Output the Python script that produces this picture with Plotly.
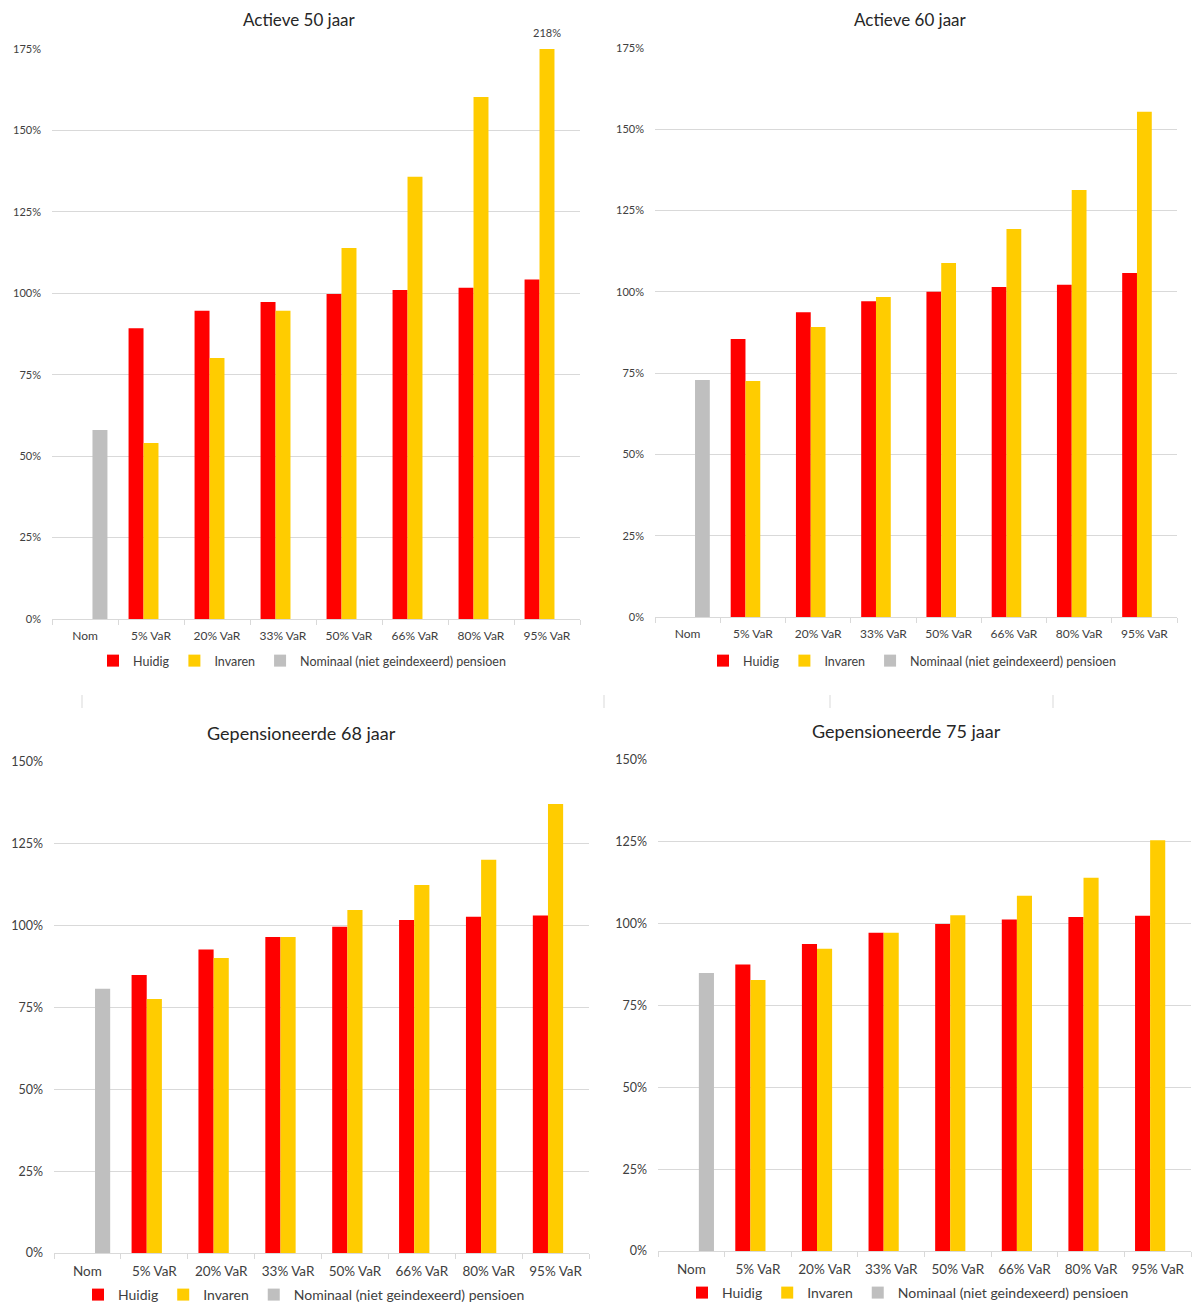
import plotly.graph_objects as go

W, H = 1192, 1311

categories = ["Nom", "5% VaR", "20% VaR", "33% VaR", "50% VaR", "66% VaR", "80% VaR", "95% VaR"]
series_names = ["Huidig", "Invaren", "Nominaal (niet geindexeerd) pensioen"]
titles = ["Actieve 50 jaar", "Actieve 60 jaar", "Gepensioneerde 68 jaar", "Gepensioneerde 75 jaar"]

# values in percent
a50_huidig = [None, 89.3, 94.6, 97.3, 99.8, 101.0, 101.7, 104.2]
a50_invaren = [None, 54.0, 80.1, 94.6, 113.9, 135.8, 160.3, 218.0]
a50_nominaal = [58.0, None, None, None, None, None, None, None]

a60_huidig = [None, 85.5, 93.7, 97.1, 100.0, 101.5, 102.2, 105.8]
a60_invaren = [None, 72.6, 89.2, 98.4, 108.9, 119.3, 131.3, 155.4]
a60_nominaal = [72.9, None, None, None, None, None, None, None]

g68_huidig = [None, 84.9, 92.7, 96.5, 99.7, 101.7, 102.7, 103.1]
g68_invaren = [None, 77.6, 90.1, 96.5, 104.8, 112.4, 120.1, 137.2]
g68_nominaal = [80.7, None, None, None, None, None, None, None]

g75_huidig = [None, 87.5, 93.8, 97.2, 99.9, 101.3, 102.0, 102.4]
g75_invaren = [None, 82.8, 92.3, 97.2, 102.6, 108.5, 114.0, 125.5]
g75_nominaal = [84.9, None, None, None, None, None, None, None]

top_ticks = [0, 25, 50, 75, 100, 125, 150, 175]
bottom_ticks = [0, 25, 50, 75, 100, 125, 150]

colors = ["#FF0000", "#FFCC00", "#BFBFBF"]
grid = "#D9D9D9"
txt = "#404040"
FONT = "Lato"

panels = [
    dict(data=[a50_huidig, a50_invaren, a50_nominaal], ticks=top_ticks, rng=175,
         x=(52, 580), y=(49, 619), title_xy=(299, 20), leg_xy=(302, 661), leg_anchor="middle",
         fs_x=12, fs_y=11, fs_leg=12.5, fs_t=17, std_x=6),
    dict(data=[a60_huidig, a60_invaren, a60_nominaal], ticks=top_ticks, rng=175,
         x=(655, 1177), y=(48, 617), title_xy=(910, 20), leg_xy=(912, 661), leg_anchor="middle",
         fs_x=12, fs_y=11, fs_leg=12.5, fs_t=17, std_x=6),
    dict(data=[g68_huidig, g68_invaren, g68_nominaal], ticks=bottom_ticks, rng=150,
         x=(54, 589), y=(762, 1253), title_xy=(301, 733), leg_xy=(304, 1311), leg_anchor="bottom",
         fs_x=13.5, fs_y=12.5, fs_leg=14, fs_t=18, std_x=6),
    dict(data=[g75_huidig, g75_invaren, g75_nominaal], ticks=bottom_ticks, rng=150,
         x=(658, 1191), y=(760, 1251), title_xy=(906, 731), leg_xy=(908, 1309), leg_anchor="bottom",
         fs_x=13.5, fs_y=12.5, fs_leg=14, fs_t=18, std_x=6),
]

fig = go.Figure()
layout = dict(
    width=W, height=H, autosize=False,
    margin=dict(l=0, r=0, t=0, b=0, pad=0),
    paper_bgcolor="white", plot_bgcolor="white",
    barmode="group", bargap=0.32, bargroupgap=0,
    font=dict(family=FONT, color=txt),
    annotations=[], shapes=[],
)

for i, p in enumerate(panels):
    k = "" if i == 0 else str(i + 1)
    xa, ya = "x" + k, "y" + k
    leg = "legend" + k
    for s in range(3):
        fig.add_trace(go.Bar(
            x=categories, y=p["data"][s], name=series_names[s],
            marker=dict(color=colors[s], line=dict(width=0)),
            xaxis=xa, yaxis=ya, legend=leg, hoverinfo="skip",
        ))
    layout["xaxis" + k] = dict(
        domain=[p["x"][0] / W, p["x"][1] / W], anchor=ya, automargin=False,
        type="category", showgrid=False, showline=True, linecolor=grid, linewidth=1,
        ticks="outside", tickson="boundaries", ticklen=5, tickcolor=grid,
        tickfont=dict(size=p["fs_x"], color=txt, family=FONT), ticklabelstandoff=p["std_x"],
        fixedrange=True,
    )
    layout["yaxis" + k] = dict(
        domain=[1 - p["y"][1] / H, 1 - p["y"][0] / H], anchor=xa, automargin=False,
        range=[0, p["rng"]], tickvals=p["ticks"], ticktext=[f"{t}%" for t in p["ticks"]],
        showgrid=True, gridcolor=grid, gridwidth=1, zeroline=False, showline=False,
        ticks="", tickfont=dict(size=p["fs_y"], color=txt, family=FONT), ticklabelstandoff=10,
        fixedrange=True,
    )
    layout[leg] = dict(
        orientation="h", x=p["leg_xy"][0] / W, y=1 - p["leg_xy"][1] / H,
        xanchor="center", yanchor=p["leg_anchor"], bgcolor="rgba(0,0,0,0)",
        font=dict(size=p["fs_leg"], color=txt, family=FONT), traceorder="normal",
        itemclick=False, itemdoubleclick=False,
    )
    layout["annotations"].append(dict(
        text=titles[i], xref="paper", yref="paper",
        x=p["title_xy"][0] / W, y=1 - p["title_xy"][1] / H,
        xanchor="center", yanchor="middle", showarrow=False,
        font=dict(size=p["fs_t"], color="#262626", family=FONT),
    ))

# label for clipped bar in the first panel
layout["annotations"].append(dict(
    text=f"{a50_invaren[-1]:.0f}%", xref="x", yref="y",
    x=categories[-1], y=panels[0]["rng"], yshift=16,
    xanchor="center", yanchor="middle", showarrow=False,
    font=dict(size=11, color=txt, family=FONT),
))

# faint separator marks between the chart blocks
for xp in [82, 604, 830, 1053]:
    layout["shapes"].append(dict(
        type="line", xref="paper", yref="paper",
        x0=xp / W, x1=xp / W, y0=1 - 695 / H, y1=1 - 708 / H,
        line=dict(color=grid, width=1),
    ))

fig.update_layout(**layout)
fig.write_html("out.html")
